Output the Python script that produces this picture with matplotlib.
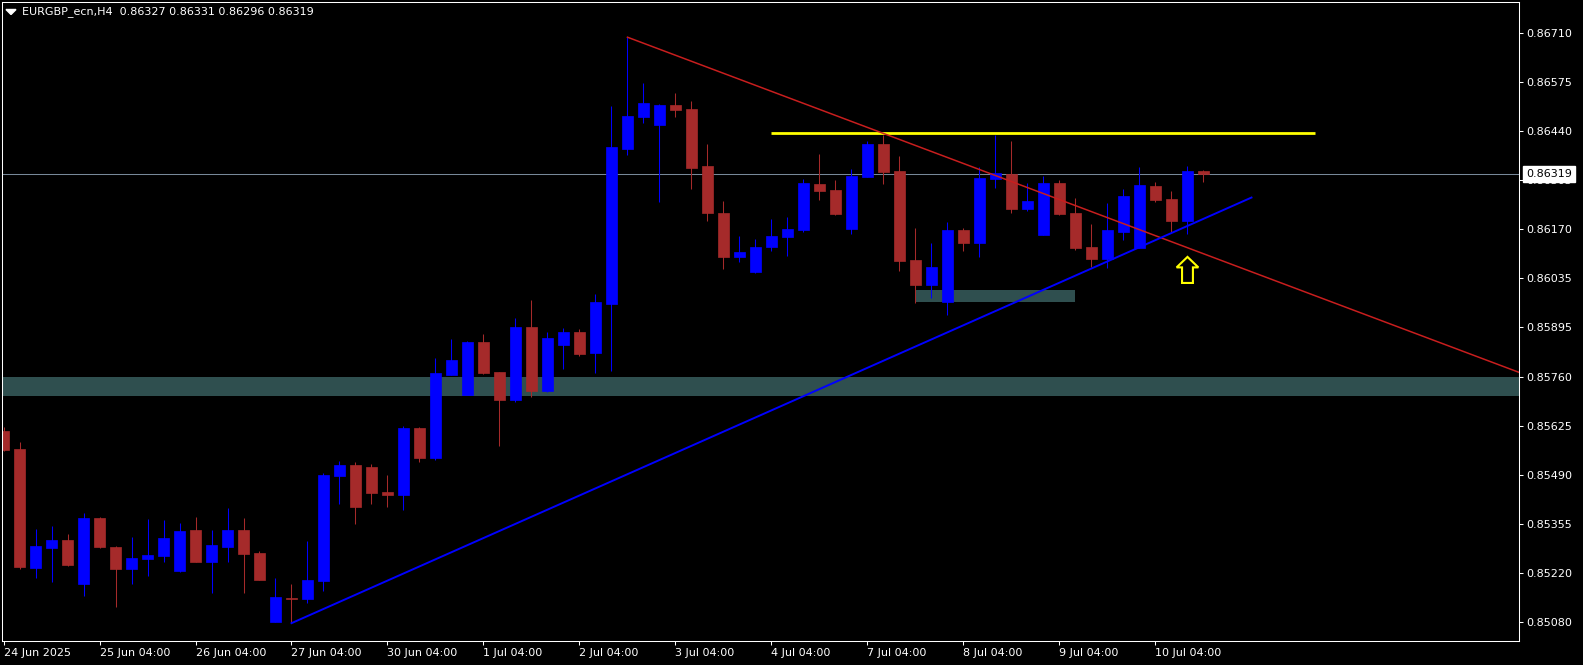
import numpy as np
import matplotlib.pyplot as plt
from matplotlib.patches import Polygon, Rectangle

# EURGBP H4 candles, 24 Jun 04:00 .. 10 Jul 16:00
opens = [0.85609, 0.85559, 0.85231, 0.85287, 0.85308, 0.85187, 0.85369, 0.85288, 0.85228, 0.85255,
         0.85264, 0.85222, 0.85335, 0.85247, 0.85288, 0.85335, 0.85272, 0.85082, 0.85147, 0.85145,
         0.85194, 0.85485, 0.85515, 0.85510, 0.85440, 0.85432, 0.85617, 0.85534, 0.85764, 0.85708,
         0.85855, 0.85772, 0.85695, 0.85896, 0.85720, 0.85847, 0.85882, 0.85824, 0.85961, 0.86388,
         0.86477, 0.86454, 0.86510, 0.86499, 0.86341, 0.86211, 0.86090, 0.86049, 0.86117, 0.86145,
         0.86165, 0.86291, 0.86275, 0.86167, 0.86312, 0.86402, 0.86327, 0.86082, 0.86012, 0.85966,
         0.86164, 0.86128, 0.86305, 0.86319, 0.86223, 0.86151, 0.86294, 0.86211, 0.86117, 0.86085,
         0.86160, 0.86115, 0.86286, 0.86250, 0.86190, 0.86327]
highs = [0.85621, 0.85579, 0.85338, 0.85347, 0.85324, 0.85382, 0.85372, 0.85291, 0.85316, 0.85366,
         0.85363, 0.85355, 0.85371, 0.85335, 0.85396, 0.85369, 0.85277, 0.85203, 0.85186, 0.85305,
         0.85493, 0.85526, 0.85523, 0.85518, 0.85487, 0.85623, 0.85620, 0.85811, 0.85863, 0.85857,
         0.85877, 0.85772, 0.85921, 0.85971, 0.85882, 0.85894, 0.85891, 0.85987, 0.86507, 0.86697,
         0.86570, 0.86512, 0.86543, 0.86521, 0.86402, 0.86244, 0.86148, 0.86139, 0.86195, 0.86200,
         0.86305, 0.86374, 0.86302, 0.86333, 0.86410, 0.86427, 0.86369, 0.86170, 0.86128, 0.86186,
         0.86170, 0.86338, 0.86427, 0.86410, 0.86294, 0.86313, 0.86302, 0.86253, 0.86181, 0.86239,
         0.86278, 0.86338, 0.86297, 0.86272, 0.86341, 0.86331]
lows = [0.85553, 0.85228, 0.85204, 0.85193, 0.85237, 0.85154, 0.85287, 0.85123, 0.85187, 0.85208,
        0.85248, 0.85219, 0.85247, 0.85162, 0.85247, 0.85162, 0.85197, 0.85082, 0.85078, 0.85134,
        0.85167, 0.85408, 0.85353, 0.85408, 0.85400, 0.85392, 0.85523, 0.85529, 0.85764, 0.85708,
        0.85766, 0.85568, 0.85689, 0.85703, 0.85717, 0.85780, 0.85817, 0.85769, 0.85775, 0.86372,
        0.86460, 0.86242, 0.86477, 0.86278, 0.86190, 0.86057, 0.86077, 0.86046, 0.86107, 0.86093,
        0.86160, 0.86248, 0.86207, 0.86154, 0.86312, 0.86292, 0.86052, 0.85963, 0.85977, 0.85930,
        0.86107, 0.86091, 0.86281, 0.86212, 0.86218, 0.86151, 0.86207, 0.86110, 0.86062, 0.86060,
        0.86138, 0.86115, 0.86243, 0.86160, 0.86154, 0.86296]
closes = [0.85556, 0.85234, 0.85291, 0.85308, 0.85239, 0.85369, 0.85288, 0.85228, 0.85258, 0.85266,
          0.85313, 0.85333, 0.85247, 0.85294, 0.85335, 0.85269, 0.85197, 0.85150, 0.85146, 0.85197,
          0.85487, 0.85515, 0.85399, 0.85438, 0.85432, 0.85617, 0.85534, 0.85769, 0.85805, 0.85855,
          0.85769, 0.85695, 0.85896, 0.85720, 0.85866, 0.85882, 0.85822, 0.85965, 0.86394, 0.86479,
          0.86515, 0.86510, 0.86496, 0.86336, 0.86212, 0.86091, 0.86104, 0.86117, 0.86148, 0.86167,
          0.86294, 0.86273, 0.86209, 0.86313, 0.86402, 0.86325, 0.86080, 0.86012, 0.86062, 0.86164,
          0.86129, 0.86308, 0.86321, 0.86223, 0.86244, 0.86294, 0.86209, 0.86115, 0.86085, 0.86164,
          0.86258, 0.86289, 0.86248, 0.86190, 0.86327, 0.86319]

date_ticks = [0, 6, 12, 18, 24, 30, 36, 42, 48, 54, 60, 66, 72]
date_labels = ["24 Jun 2025", "25 Jun 04:00", "26 Jun 04:00", "27 Jun 04:00", "30 Jun 04:00",
               "1 Jul 04:00", "2 Jul 04:00", "3 Jul 04:00", "4 Jul 04:00", "7 Jul 04:00",
               "8 Jul 04:00", "9 Jul 04:00", "10 Jul 04:00"]
price_labels = ["0.86710", "0.86575", "0.86440", "0.86305", "0.86170", "0.86035", "0.85895",
                "0.85760", "0.85625", "0.85490", "0.85355", "0.85220", "0.85080"]

# chart objects
zone_big = (0.85706, 0.85758)
zone_small = (57, 67, 0.85966, 0.85999)
resistance = (48, 82, 0.86432)
red_trend = ([39, 94.72], [0.86697, 0.85771])
blue_trend = ([18, 78], [0.85078, 0.86254])
arrow_x, arrow_top, arrow_neck, arrow_bottom = 74, 0.86090, 0.86061, 0.86018

BULL = '#0000ff'
BEAR = '#a52a2a'
ZONE = '#2f4f4f'

W, H = 1583, 665
fig = plt.figure(figsize=(W / 100, H / 100), dpi=100, facecolor='black')
ax = fig.add_axes([2 / W, 24 / H, 1517 / W, 639 / H])
ax.set_facecolor('black')

x = np.arange(len(opens))
o = np.array(opens)
c = np.array(closes)
colors = [BULL if cc >= oo else BEAR for oo, cc in zip(o, c)]

# zones behind everything
ax.axhspan(zone_big[0], zone_big[1], color=ZONE, lw=0, zorder=0.5)
ax.add_patch(Rectangle((zone_small[0], zone_small[2]), zone_small[1] - zone_small[0],
                       zone_small[3] - zone_small[2], color=ZONE, lw=0, zorder=0.5))

# bid line
ax.axhline(closes[-1], color='#778899', lw=0.75, zorder=1)

# candles
ax.vlines(x, lows, highs, colors=colors, lw=0.75, zorder=2)
ax.bar(x, np.abs(c - o), bottom=np.minimum(o, c), width=0.6875, color=colors,
       edgecolor=colors, lw=0.5, zorder=2.1)

# lines
ax.hlines(resistance[2], resistance[0], resistance[1], color='#ffff00', lw=2, zorder=3)
ax.plot(red_trend[0], red_trend[1], color='#c81e1e', lw=1.1, zorder=3)
ax.plot(blue_trend[0], blue_trend[1], color='#0000ff', lw=1.4, zorder=3)

# up arrow
hw, sw = 0.68, 0.34
arrow = Polygon([(arrow_x, arrow_top), (arrow_x + hw, arrow_neck), (arrow_x + sw, arrow_neck),
                 (arrow_x + sw, arrow_bottom), (arrow_x - sw, arrow_bottom),
                 (arrow_x - sw, arrow_neck), (arrow_x - hw, arrow_neck)],
                closed=True, facecolor='black', edgecolor='#ffff00', lw=1.5, zorder=4)
ax.add_patch(arrow)

ax.set_xlim(-0.094, 94.72)
ax.set_ylim(0.850287, 0.867943)

for s in ax.spines.values():
    s.set_color('white')
    s.set_linewidth(0.75)

ax.yaxis.tick_right()
ax.set_yticks(np.linspace(0.86710, 0.85080, 13))
ax.set_yticklabels(price_labels)
ax.set_xticks(date_ticks)
ax.set_xticklabels(date_labels)
for lbl in ax.get_xticklabels():
    lbl.set_horizontalalignment('left')
ax.tick_params(colors='white', labelsize=8, length=3, width=0.75, direction='out')
ax.tick_params(axis='y', pad=2)
ax.tick_params(axis='x', pad=2)

# current price box
ax.annotate(f"{closes[-1]:.5f}", xy=(1, closes[-1]), xycoords=('axes fraction', 'data'),
            xytext=(7, 0), textcoords='offset pixels', ha='left', va='center',
            color='black', fontsize=8, annotation_clip=False, zorder=5,
            bbox=dict(boxstyle='square,pad=0.3', fc='white', ec='white'))

# header
fig.patches.append(Polygon([(6 / W, 1 - 9.5 / H), (16 / W, 1 - 9.5 / H), (11 / W, 1 - 14.5 / H)],
                           closed=True, transform=fig.transFigure, color='white'))
fig.text(22 / W, 1 - 12 / H,
         f"EURGBP_ecn,H4  {opens[-1]:.5f} {highs[-1]:.5f} {lows[-1]:.5f} {closes[-1]:.5f}",
         color='white', fontsize=8, va='center', ha='left')

fig.savefig('out.png', dpi=100, facecolor='black')
